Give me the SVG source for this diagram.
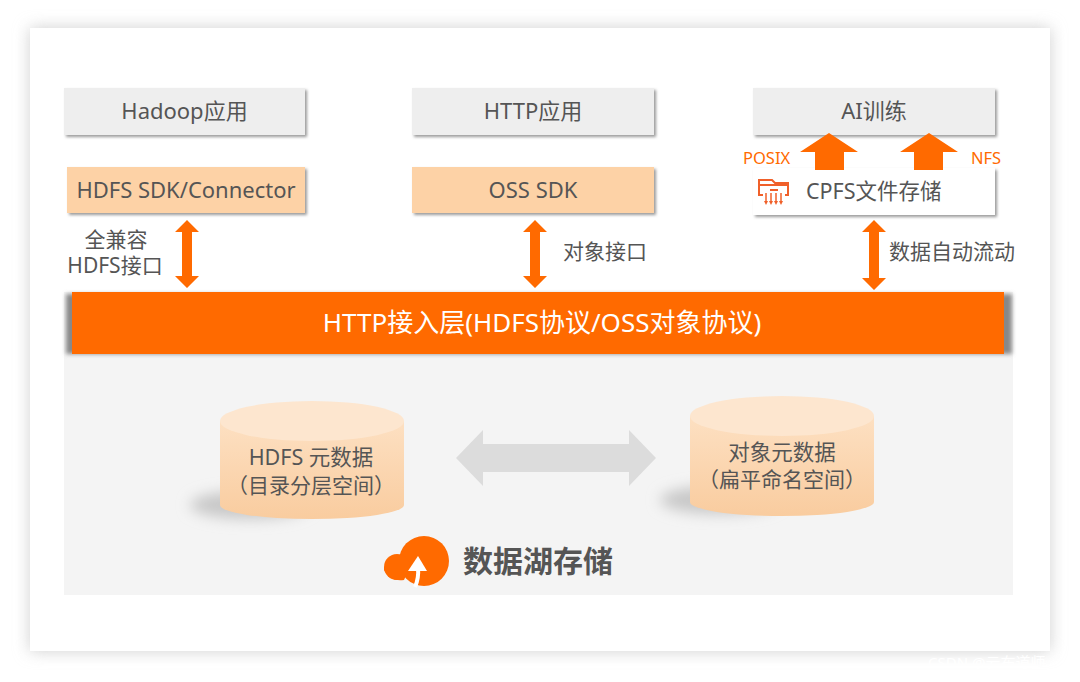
<svg xmlns="http://www.w3.org/2000/svg" width="1080" height="682" viewBox="0 0 1080 682">
<defs>
<filter id="cardShadow" x="-10%" y="-10%" width="120%" height="120%"><feGaussianBlur stdDeviation="8"/></filter>
<filter id="boxShadow" x="-10%" y="-30%" width="120%" height="160%"><feGaussianBlur stdDeviation="1.5"/></filter>
<filter id="barShadow" x="-5%" y="-30%" width="110%" height="160%"><feGaussianBlur stdDeviation="2"/></filter>
<filter id="cylShadow" x="-30%" y="-100%" width="160%" height="300%"><feGaussianBlur stdDeviation="7"/></filter>
<linearGradient id="cylBody" x1="0" y1="0" x2="0" y2="1">
<stop offset="0" stop-color="#fde0c2"/><stop offset="1" stop-color="#f9cc9f"/>
</linearGradient>
<style>
.t{font-family:"Noto Sans","Noto Sans CJK SC",sans-serif;fill:#555;}
.gbox{fill:#eeeeee;}
.pbox{fill:#fdd2a6;}
.shd{fill:#9a9a9a;filter:url(#boxShadow);}
.orange{fill:#ff6a00;}
</style>
</defs>
<rect width="1080" height="682" fill="#ffffff"/>
<rect x="30" y="28" width="1020" height="623" fill="#cfcfcf" filter="url(#cardShadow)"/>
<rect x="30" y="28" width="1020" height="623" fill="#ffffff"/>
<rect x="64" y="292" width="949" height="303" fill="#f4f4f4"/>

<g id="hadoop-app">
<rect class="shd" x="66" y="90" width="241" height="47"/>
<rect class="gbox" x="64" y="88" width="241" height="47"/>
<text class="t" x="184.5" y="119" font-size="22" text-anchor="middle">Hadoop应用</text>
</g>
<g id="http-app">
<rect class="shd" x="414" y="90" width="242" height="47"/>
<rect class="gbox" x="412" y="88" width="242" height="47"/>
<text class="t" x="533" y="119" font-size="22" text-anchor="middle">HTTP应用</text>
</g>
<g id="ai-train">
<rect class="shd" x="755" y="90" width="242" height="47"/>
<rect class="gbox" x="753" y="88" width="242" height="47"/>
<text class="t" x="874" y="119" font-size="22" text-anchor="middle">AI训练</text>
</g>

<g id="hdfs-sdk">
<rect class="shd" x="69" y="169" width="238" height="46"/>
<rect class="pbox" x="67" y="167" width="238" height="46"/>
<text class="t" x="186" y="197.5" font-size="22" text-anchor="middle">HDFS SDK/Connector</text>
</g>
<g id="oss-sdk">
<rect class="shd" x="414" y="169" width="242" height="46"/>
<rect class="pbox" x="412" y="167" width="242" height="46"/>
<text class="t" x="533" y="197.5" font-size="22" text-anchor="middle">OSS SDK</text>
</g>
<g id="cpfs">
<rect class="shd" x="755" y="170" width="242" height="47"/>
<rect fill="#ffffff" x="753" y="168" width="242" height="47"/>
<g fill="none" stroke="#f0602a" stroke-width="2">
<path d="M759,185 V180 H772 L775,183 H788 V195 H785"/>
<path d="M763,195 H759 V185 H788"/>
<path d="M770,190 H778"/>
</g>
<g stroke="#f0602a" stroke-width="1.5" fill="#f0602a">
<line x1="766" y1="193" x2="766" y2="203"/><line x1="771" y1="193" x2="771" y2="203"/>
<line x1="776" y1="193" x2="776" y2="203"/><line x1="781" y1="193" x2="781" y2="203"/>
<path d="M764,201 L766,205 L768,201 Z M769,201 L771,205 L773,201 Z M774,201 L776,205 L778,201 Z M779,201 L781,205 L783,201 Z" stroke="none"/>
</g>
<text class="t" x="806" y="198.5" font-size="21.5">CPFS文件存储</text>
</g>

<g id="http-layer">
<rect x="66" y="294" width="946" height="60" fill="#888888" filter="url(#barShadow)"/>
<rect x="72" y="292" width="932" height="62" class="orange"/>
<text x="542" y="332" font-size="26" text-anchor="middle" fill="#ffffff" font-family="Noto Sans, Noto Sans CJK SC, sans-serif">HTTP接入层(HDFS协议/OSS对象协议)</text>
</g>

<g id="hdfs-meta">
<ellipse cx="250" cy="505" rx="60" ry="14" fill="#c8c8c8" filter="url(#cylShadow)"/>
<path d="M220,421 V505 A92,14 0 0 0 404,505 V421 Z" fill="url(#cylBody)"/>
<ellipse cx="312" cy="421" rx="92" ry="20" fill="#fde6cf"/>
<text class="t" x="311" y="464.5" font-size="21.5" text-anchor="middle">HDFS 元数据</text>
<text class="t" x="311" y="492.5" font-size="21" text-anchor="middle">（目录分层空间）</text>
</g>
<g id="obj-meta">
<ellipse cx="720" cy="500" rx="60" ry="14" fill="#c8c8c8" filter="url(#cylShadow)"/>
<path d="M690,416 V502 A92,14 0 0 0 874,502 V416 Z" fill="url(#cylBody)"/>
<ellipse cx="782" cy="416" rx="92" ry="20" fill="#fde6cf"/>
<text class="t" x="782" y="459.5" font-size="21.5" text-anchor="middle">对象元数据</text>
<text class="t" x="782" y="486.5" font-size="21" text-anchor="middle">（扁平命名空间）</text>
</g>

<g id="data-lake">
<circle cx="424" cy="561" r="25" class="orange"/>
<circle cx="397" cy="567" r="13" class="orange"/>
<path d="M410,567 L384,567 L384,570 Q390,582 404,580 Z" class="orange"/>
<path d="M415,587 Q419,578 418,568" fill="none" stroke="#ffffff" stroke-width="4"/>
<path d="M418,556 L408,571 L427,571 Z" fill="#ffffff"/>
<text x="463" y="572" font-size="30" font-weight="bold" fill="#555" font-family="Noto Sans CJK SC, Noto Sans, sans-serif">数据湖存储</text>
</g>

<g id="connectors">
<path d="M187,220 L199,232 H192 V276 H199 L187,288 L175,276 H182 V232 H175 Z" class="orange"/>
<path d="M535,220 L547,232 H540 V276 H547 L535,288 L523,276 H530 V232 H523 Z" class="orange"/>
<path d="M874,220 L886,232 H879 V278 H886 L874,290 L862,278 H869 V232 H862 Z" class="orange"/>
<path d="M815,170 V152 H800 L829,133 L858,152 H844 V170 Z" class="orange"/>
<path d="M914,170 V152 H900 L929,133 L958,152 H943 V170 Z" class="orange"/>
<path d="M456,458 L483,430 V444 H629 V430 L656,458 L629,486 V472 H483 V486 Z" fill="#dcdcdc"/>
</g>

<g id="labels">
<text class="t" x="116" y="247" font-size="21" text-anchor="middle">全兼容</text>
<text class="t" x="115" y="273" font-size="21" text-anchor="middle">HDFS接口</text>
<text class="t" x="563" y="259" font-size="21">对象接口</text>
<text class="t" x="889" y="259" font-size="21">数据自动流动</text>
<text x="743" y="164" font-size="16.5" fill="#ff6a00" font-family="Noto Sans, sans-serif">POSIX</text>
<text x="971" y="164" font-size="16.5" fill="#ff6a00" font-family="Noto Sans, sans-serif">NFS</text>
<text x="928" y="668" font-size="15" fill="#ffffff" font-family="Noto Sans, Noto Sans CJK SC, sans-serif">CSDN @云布道师</text>
</g>
</svg>
